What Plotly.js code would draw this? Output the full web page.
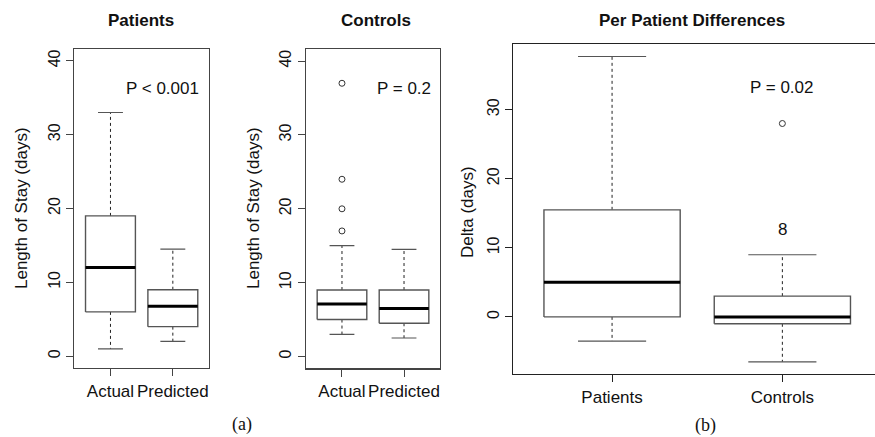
<!DOCTYPE html>
<html>
<head>
<meta charset="utf-8">
<script src="https://cdn.plot.ly/plotly-3.0.1.min.js"></script>
<style>html,body{margin:0;padding:0;background:#fff;}#chart{width:875px;height:437px;}</style>
</head>
<body>
<div id="chart"></div>
<script>
// ---- data ----
const losGroups = ['Actual', 'Predicted'];
const lengthTicks = [0, 10, 20, 30, 40];

const patientsLower  = [1, 2];
const patientsQ1     = [6, 4];
const patientsMedian = [12, 6.75];
const patientsQ3     = [19, 9];
const patientsUpper  = [33, 14.5];
const patientsOutliers = [[], []];

const controlsLower  = [3, 2.5];
const controlsQ1     = [5, 4.5];
const controlsMedian = [7.1, 6.5];
const controlsQ3     = [9, 9];
const controlsUpper  = [15, 14.5];
const controlsOutliers = [[17, 20, 24, 37], []];

const deltaGroups = ['Patients', 'Controls'];
const deltaTicks = [0, 10, 20, 30];
const deltaLower  = [-3.5, -6.5];
const deltaQ1     = [0, -1];
const deltaMedian = [5, 0];
const deltaQ3     = [15.5, 3];
const deltaUpper  = [37.7, 9];
const deltaOutliers = [[], [28]];

const pValues = ['P < 0.001', 'P = 0.2', 'P = 0.02'];
const extraLabel = '8';

// ---- helpers ----
const W = 875, H = 437;
const px = p => p / W;
const py = p => 1 - p / H;
const BOXW = 0.4, CAPW = 0.2;
const boxColor = '#555';

function boxTraces(xa, ya, lower, q1, med, q3, upper, outs) {
  const wx = [], wy = [], cx = [], cy = [], bx = [], by = [], mx = [], my = [], ox = [], oy = [];
  for (let i = 0; i < med.length; i++) {
    const p = i + 1;
    wx.push(p, p, null, p, p, null);
    wy.push(q3[i], upper[i], null, q1[i], lower[i], null);
    cx.push(p - CAPW, p + CAPW, null, p - CAPW, p + CAPW, null);
    cy.push(upper[i], upper[i], null, lower[i], lower[i], null);
    bx.push(p - BOXW, p + BOXW, p + BOXW, p - BOXW, p - BOXW, null);
    by.push(q1[i], q1[i], q3[i], q3[i], q1[i], null);
    mx.push(p - BOXW, p + BOXW, null);
    my.push(med[i], med[i], null);
    outs[i].forEach(v => { ox.push(p); oy.push(v); });
  }
  const base = {xaxis: xa, yaxis: ya, type: 'scatter', hoverinfo: 'skip', showlegend: false};
  return [
    Object.assign({}, base, {x: wx, y: wy, mode: 'lines', line: {color: '#222', width: 1, dash: '3px,3px'}}),
    Object.assign({}, base, {x: cx, y: cy, mode: 'lines', line: {color: boxColor, width: 1.2}}),
    Object.assign({}, base, {x: bx, y: by, mode: 'lines', fill: 'toself', fillcolor: '#fff', line: {color: boxColor, width: 1.4}}),
    Object.assign({}, base, {x: mx, y: my, mode: 'lines', line: {color: '#000', width: 3}}),
    Object.assign({}, base, {x: ox, y: oy, mode: 'markers', marker: {symbol: 'circle-open', size: 6, color: '#333', line: {width: 1}}})
  ];
}

const data = [].concat(
  boxTraces('x', 'y', patientsLower, patientsQ1, patientsMedian, patientsQ3, patientsUpper, patientsOutliers),
  boxTraces('x2', 'y2', controlsLower, controlsQ1, controlsMedian, controlsQ3, controlsUpper, controlsOutliers),
  boxTraces('x3', 'y3', deltaLower, deltaQ1, deltaMedian, deltaQ3, deltaUpper, deltaOutliers)
);

const FONT = 'Liberation Sans, Arial, sans-serif';
function xAxis(d0, d1, range, groups, anchor, color) {
  return {
    domain: [px(d0), px(d1)], range: range, anchor: anchor,
    tickvals: groups.map((g, i) => i + 1), ticktext: groups,
    ticks: 'outside', ticklen: 7, tickcolor: color, tickwidth: 1,
    showline: true, mirror: true, linecolor: color, linewidth: 1.2,
    showgrid: false, zeroline: false, fixedrange: true,
    tickfont: {family: FONT, size: 17, color: '#111'}
  };
}
function yAxis(d0, d1, range, ticks, anchor, color, mirror) {
  return {
    domain: [py(d1), py(d0)], range: range, anchor: anchor,
    tickvals: ticks, ticktext: ticks.map(String), tickangle: -90,
    ticks: 'outside', ticklen: 7, tickcolor: color, tickwidth: 1,
    showline: true, mirror: mirror, linecolor: color, linewidth: 1.2,
    showgrid: false, zeroline: false, fixedrange: true,
    tickfont: {family: FONT, size: 16, color: '#111'}
  };
}
function note(text, xref, yref, x, y, opts) {
  return Object.assign({text: text, xref: xref, yref: yref, x: x, y: y, xanchor: 'center', yanchor: 'middle',
    showarrow: false, font: {family: FONT, size: 17, color: '#111'}}, opts || {});
}
const serif = {font: {family: 'Liberation Serif, Times New Roman, serif', size: 18, color: '#111'}};

const layout = {
  width: W, height: H,
  margin: {l: 0, r: 0, t: 0, b: 0},
  paper_bgcolor: '#fff', plot_bgcolor: '#fff',
  showlegend: false,
  xaxis:  xAxis(74.3, 209, [0.42, 2.58], losGroups, 'y', '#444'),
  yaxis:  yAxis(49, 368, [-1.6, 41.6], lengthTicks, 'x', '#444', true),
  xaxis2: xAxis(306, 440, [0.42, 2.58], losGroups, 'y2', '#444'),
  yaxis2: yAxis(49.3, 368.3, [-1.6, 41.6], lengthTicks, 'x2', '#444', true),
  xaxis3: xAxis(513.3, 875, [0.42, 2.544], deltaGroups, 'y3', '#222'),
  yaxis3: yAxis(44.3, 374, [-8.27, 39.47], deltaTicks, 'x3', '#222', false),
  annotations: [
    note('<b>Patients</b>', 'paper', 'paper', px(141), py(21)),
    note('<b>Controls</b>', 'paper', 'paper', px(376), py(21)),
    note('<b>Per Patient Differences</b>', 'paper', 'paper', px(692), py(21)),
    note('Length of Stay (days)', 'paper', 'paper', px(21), py(208), {textangle: -90}),
    note('Length of Stay (days)', 'paper', 'paper', px(253), py(208), {textangle: -90}),
    note('Delta (days)', 'paper', 'paper', px(467), py(212), {textangle: -90}),
    note(pValues[0], 'x', 'y', 1.84, 36.3),
    note(pValues[1], 'x2', 'y2', 2.0, 36.3),
    note(pValues[2], 'x3', 'y3', 2.0, 33.2),
    note(extraLabel, 'x3', 'y3', 2.0, 12.6),
    note('(a)', 'paper', 'paper', px(242), py(424), serif),
    note('(b)', 'paper', 'paper', px(705), py(425), serif)
  ]
};

Plotly.newPlot('chart', data, layout, {displayModeBar: false, staticPlot: true});
</script>
</body>
</html>
